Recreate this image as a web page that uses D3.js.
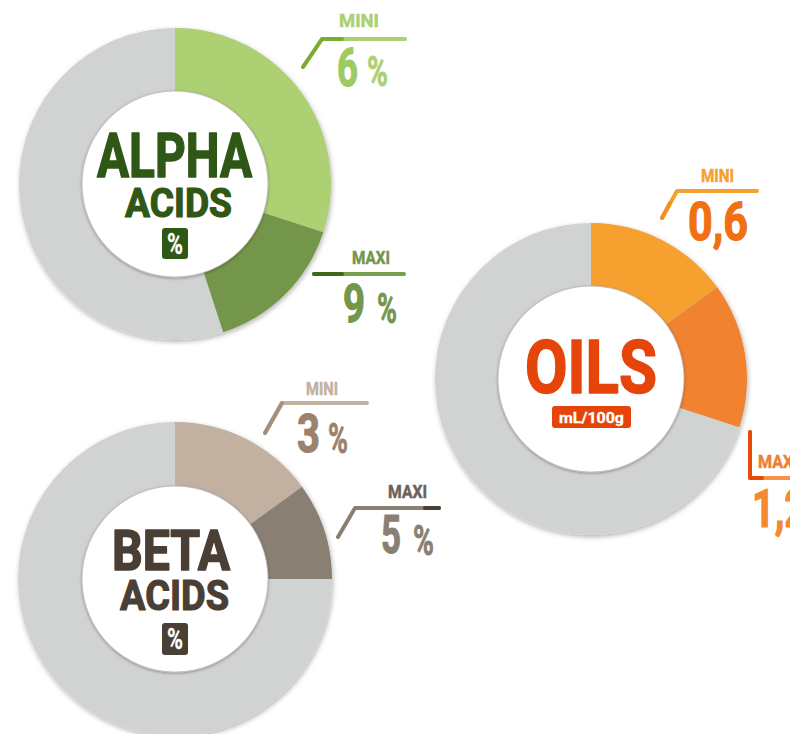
<!DOCTYPE html>
<html>
<head>
<meta charset="utf-8">
<script src="https://cdn.jsdelivr.net/npm/d3@7/dist/d3.min.js"></script>
<style>
  html, body { margin: 0; padding: 0; background: #fff; }
  svg { display: block; }
  text { font-family: Roboto, "Liberation Sans", sans-serif; font-weight: 700; }
</style>
</head>
<body>
<svg id="chart" width="790" height="734"></svg>
<script>
// ---------- DATA ----------
const chartNames   = ["alpha", "oils", "beta"];
const titleLine1   = ["ALPHA", "OILS", "BETA"];
const titleLine2   = ["ACIDS", "", "ACIDS"];
const unitLabels   = ["%", "mL/100g", "%"];
const miniValues   = [6, 0.6, 3];
const maxiValues   = [9, 1.2, 5];
const scaleMaxima  = [20, 4, 20];
const segmentTags  = ["MINI", "MAXI"];
const showPercent  = [true, false, true];

// ---------- LAYOUT / STYLE ----------
const layout = {
  alpha: { cx: 175, cy: 184, R: 156, r: 93,
    t1: [97, 177, 62, 155], t2: [125, 217, 41, 107], unit: [162, 228, 26, 31, 29, 254, 16],
    labels: [
      { tag: [339, 27, 40], line: [[303, 67], [322, 39], [405, 39]], dark: [[303, 67], [322, 39], [342, 39]],
        value: [337, 86, 21], pct: [367, 86, 21] },
      { tag: [352, 264, 38], line: [[314, 274], [404, 274]], dark: [[314, 274], [342, 274]],
        value: [343, 322, 22], pct: [377, 323, 20] }
    ] },
  oils: { cx: 591, cy: 379, R: 156, r: 93,
    t1: [525, 393, 74, 132], t2: null, unit: [552, 406, 79, 22, 15.5, 423, 65],
    labels: [
      { tag: [701, 182, 33], line: [[662, 218], [677, 191], [757, 191]], dark: [[662, 218], [670, 203]],
        value: [688, 240, 60], pct: null },
      { tag: [758, 468, 40], line: [[750, 432], [750, 478], [800, 478]], dark: [[750, 432], [750, 478], [762, 478]],
        value: [752, 527, 55], pct: null }
    ] },
  beta: { cx: 175, cy: 579, R: 157, r: 93,
    t1: [112, 570, 56, 118], t2: [120, 610, 42, 109], unit: [162, 623, 26, 32, 29, 649, 16],
    labels: [
      { tag: [306, 395, 32], line: [[265, 433], [282, 403], [367, 403]], dark: [[265, 433], [282, 403]],
        value: [297, 452, 23], pct: [328, 453, 20] },
      { tag: [388, 498, 39], line: [[338, 537], [355, 508], [439, 508]], dark: [[425, 508], [439, 508]],
        value: [381, 553, 20], pct: [413, 555, 21] }
    ] }
};

const styles = {
  alpha: { mini: "#acd072", maxi: "#74964a", title: "#2f5716",
    tag: ["#acd072", "#74964a"], line: ["#acd072", "#7a9f4c"], dark: ["#78ad32", "#3d6a1a"],
    value: ["#9dca62", "#74964a"], pct: ["#acd072", "#74964a"] },
  oils: { mini: "#f6a030", maxi: "#f08230", title: "#e5450b",
    tag: ["#f6a030", "#f08030"], line: ["#f6a030", "#f59448"], dark: ["#f29020", "#e84a0a"],
    value: ["#f07012", "#f28a30"], pct: ["#f07012", "#f28a30"] },
  beta: { mini: "#c2b1a1", maxi: "#8a7f73", title: "#4a3f35",
    tag: ["#c2b1a1", "#6d6259"], line: ["#c2b1a1", "#8a7f73"], dark: ["#a48f7a", "#4a3f35"],
    value: ["#9c826c", "#8a7f73"], pct: ["#9c826c", "#8a7f73"] }
};

// ---------- DRAW ----------
const svg = d3.select("#chart");
const defs = svg.append("defs");
const sh = defs.append("filter").attr("id", "ringShadow")
  .attr("x", "-20%").attr("y", "-20%").attr("width", "140%").attr("height", "140%");
sh.append("feDropShadow").attr("dx", 1).attr("dy", 2).attr("stdDeviation", 2.5)
  .attr("flood-color", "#000").attr("flood-opacity", 0.3);
const ish = defs.append("filter").attr("id", "innerShadow")
  .attr("x", "-20%").attr("y", "-20%").attr("width", "140%").attr("height", "140%");
ish.append("feDropShadow").attr("dx", 0).attr("dy", 1).attr("stdDeviation", 1.5)
  .attr("flood-color", "#000").attr("flood-opacity", 0.35);

const fmt = v => d3.format("~g")(v).replace(".", ",");

function fitText(g, str, x, y, size, width, fill, anchor, thick) {
  const t = g.append("text").attr("x", x).attr("y", y)
    .attr("font-size", size).attr("fill", fill).text(str);
  if (anchor) t.attr("text-anchor", anchor);
  if (width) t.attr("textLength", width).attr("lengthAdjust", "spacingAndGlyphs");
  if (thick) t.attr("stroke", fill).attr("stroke-width", thick).attr("stroke-linejoin", "round");
  return t;
}

chartNames.forEach((name, i) => {
  const L = layout[name], S = styles[name];
  const angle = d3.scaleLinear().domain([0, scaleMaxima[i]]).range([0, 2 * Math.PI]);
  const arc = d3.arc().innerRadius(L.r).outerRadius(L.R);
  const g = svg.append("g").attr("class", "donut-" + name);
  const ring = g.append("g").attr("transform", `translate(${L.cx},${L.cy})`);

  // background ring
  ring.append("path")
    .attr("d", arc({ startAngle: 0, endAngle: 2 * Math.PI }))
    .attr("fill", "#d1d3d2").attr("filter", "url(#ringShadow)");
  // mini & maxi segments
  const segs = [
    { s: 0, e: miniValues[i], c: S.mini },
    { s: miniValues[i], e: maxiValues[i], c: S.maxi }
  ];
  ring.selectAll("path.seg").data(segs).enter().append("path").attr("class", "seg")
    .attr("d", d => arc({ startAngle: angle(d.s), endAngle: angle(d.e) }))
    .attr("fill", d => d.c);
  // inner white disc
  ring.append("circle").attr("r", L.r).attr("fill", "#fff")
    .attr("stroke", "#b8b8b8").attr("stroke-width", 0.8).attr("filter", "url(#innerShadow)");

  // titles
  fitText(g, titleLine1[i], L.t1[0], L.t1[1], L.t1[2], L.t1[3], S.title, null, 1.6);
  if (titleLine2[i]) fitText(g, titleLine2[i], L.t2[0], L.t2[1], L.t2[2], L.t2[3], S.title, null, 1.2);
  // unit badge
  const u = L.unit;
  g.append("rect").attr("x", u[0]).attr("y", u[1]).attr("width", u[2]).attr("height", u[3])
    .attr("rx", 3).attr("fill", S.title);
  fitText(g, unitLabels[i], u[0] + u[2] / 2, u[5], u[4], u[6] || null, "#fff", "middle", 0.3);

  // labels
  const vals = [miniValues[i], maxiValues[i]];
  const lineGen = d3.line();
  L.labels.forEach((lb, k) => {
    fitText(g, segmentTags[k], lb.tag[0], lb.tag[1], 18, lb.tag[2], S.tag[k], null, 0.5);
    g.append("path").attr("d", lineGen(lb.line)).attr("fill", "none")
      .attr("stroke", S.line[k]).attr("stroke-width", 4)
      .attr("stroke-linecap", "round").attr("stroke-linejoin", "round");
    g.append("path").attr("d", lineGen(lb.dark)).attr("fill", "none")
      .attr("stroke", S.dark[k]).attr("stroke-width", 4)
      .attr("stroke-linecap", "round").attr("stroke-linejoin", "round");
    fitText(g, fmt(vals[k]), lb.value[0], lb.value[1], 53, lb.value[2], S.value[k], null, 1.2);
    if (showPercent[i] && lb.pct) fitText(g, "%", lb.pct[0], lb.pct[1], 42, lb.pct[2], S.pct[k], null, 0.8);
  });
});
</script>
</body>
</html>
